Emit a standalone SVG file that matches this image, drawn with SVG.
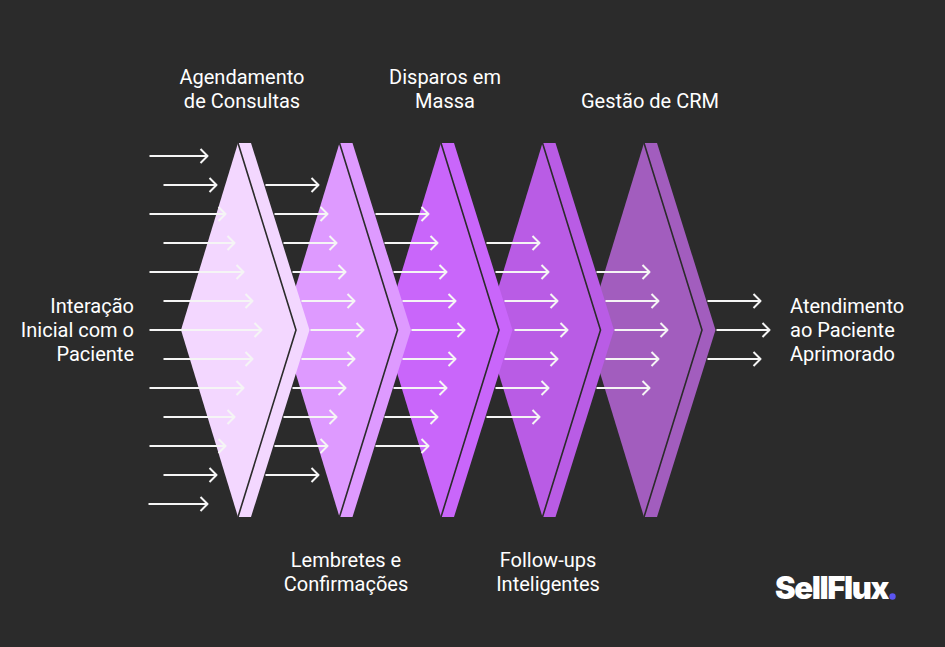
<svg xmlns="http://www.w3.org/2000/svg" width="945" height="647" viewBox="0 0 945 647">
<style>
text{font-family:Roboto,"Liberation Sans",sans-serif;font-size:20px;fill:#fff;text-anchor:middle}
.r{text-anchor:end}.l{text-anchor:start}
.g{fill:none;stroke:#2b2b2b;stroke-width:1.6}
.a{fill:none;stroke:#f5f5f5;stroke-width:2;stroke-linecap:butt;stroke-linejoin:round}
#logo text{font-family:Inter,"Liberation Sans",sans-serif;font-weight:900;font-size:31px;letter-spacing:-1.4px;text-anchor:start}
</style>
<defs>
<path id="s" d="M181,330L238,143H251L309.5,330L251,517H238Z"/>
<path id="d" d="M238,143L296,330L238,517"/>
</defs>
<rect width="945" height="647" fill="#2b2b2b"/>
<g id="stage-5"><use href="#s" x="406" fill="#a25dbe"/><use href="#d" x="406" class="g"/></g>
<g id="stage-4"><use href="#s" x="304.5" fill="#b95ce5"/><use href="#d" x="304.5" class="g"/></g>
<g id="stage-3"><use href="#s" x="203" fill="#c966fa"/><use href="#d" x="203" class="g"/></g>
<g id="stage-2"><use href="#s" x="101.5" fill="#de9aff"/><use href="#d" x="101.5" class="g"/></g>
<g id="stage-1"><use href="#s" fill="#f3d7ff"/><use href="#d" class="g"/></g>
<g id="connectors" class="a" transform="translate(-0.5 0)">
<path d="M150,156H208M201,149l7,7l-7,7M164,185H217M210,178l7,7l-7,7M150,214H226M219,207l7,7l-7,7M164,243H235M228,236l7,7l-7,7M150,272H244M237,265l7,7l-7,7M164,301H253M246,294l7,7l-7,7M150,330H262M255,323l7,7l-7,7M164,359H253M246,352l7,7l-7,7M150,388H244M237,381l7,7l-7,7M164,417H235M228,410l7,7l-7,7M150,446H226M219,439l7,7l-7,7M164,475H217M210,468l7,7l-7,7M149,504H208M201,497l7,7l-7,7"/>
<path d="M266,185H319M312,178l7,7l-7,7M275,214H328M321,207l7,7l-7,7M284,243H337M330,236l7,7l-7,7M293,272H346M339,265l7,7l-7,7M302,301H355M348,294l7,7l-7,7M311,330H364M357,323l7,7l-7,7M302,359H355M348,352l7,7l-7,7M293,388H346M339,381l7,7l-7,7M284,417H337M330,410l7,7l-7,7M275,446H328M321,439l7,7l-7,7M266,475H319M312,468l7,7l-7,7"/>
<path d="M376,214H429M422,207l7,7l-7,7M385,243H438M431,236l7,7l-7,7M394,272H447M440,265l7,7l-7,7M403,301H456M449,294l7,7l-7,7M412,330H465M458,323l7,7l-7,7M403,359H456M449,352l7,7l-7,7M394,388H447M440,381l7,7l-7,7M385,417H438M431,410l7,7l-7,7M376,446H429M422,439l7,7l-7,7"/>
<path d="M487,243H540M533,236l7,7l-7,7M496,272H549M542,265l7,7l-7,7M505,301H558M551,294l7,7l-7,7M515,330H568M561,323l7,7l-7,7M505,359H558M551,352l7,7l-7,7M496,388H549M542,381l7,7l-7,7M487,417H540M533,410l7,7l-7,7"/>
<path d="M597,272H650M643,265l7,7l-7,7M606,301H659M652,294l7,7l-7,7M615,330H668M661,323l7,7l-7,7M606,359H659M652,352l7,7l-7,7M597,388H650M643,381l7,7l-7,7"/>
<path d="M708,301H761M754,294l7,7l-7,7M717,330H770M763,323l7,7l-7,7M708,359H761M754,352l7,7l-7,7"/>
</g>
<g id="label-in"><text class="r" x="134" y="313">Interação</text><text class="r" x="134" y="337">Inicial com o</text><text class="r" x="134" y="361">Paciente</text></g>
<g id="label-1"><text x="242" y="84">Agendamento</text><text x="242" y="108">de Consultas</text></g>
<g id="label-2"><text x="346" y="567">Lembretes e</text><text x="346" y="591">Confirmações</text></g>
<g id="label-3"><text x="445" y="84">Disparos em</text><text x="445" y="108">Massa</text></g>
<g id="label-4"><text x="548" y="567">Follow-ups</text><text x="548" y="591">Inteligentes</text></g>
<g id="label-5"><text x="650" y="108">Gestão de CRM</text></g>
<g id="label-out"><text class="l" x="790" y="313">Atendimento</text><text class="l" x="790" y="337">ao Paciente</text><text class="l" x="790" y="361">Aprimorado</text></g>
<g id="logo"><text x="775" y="599">SellFlux</text><circle cx="892.5" cy="596.5" r="3.2" fill="#5b54f0"/></g>
</svg>
